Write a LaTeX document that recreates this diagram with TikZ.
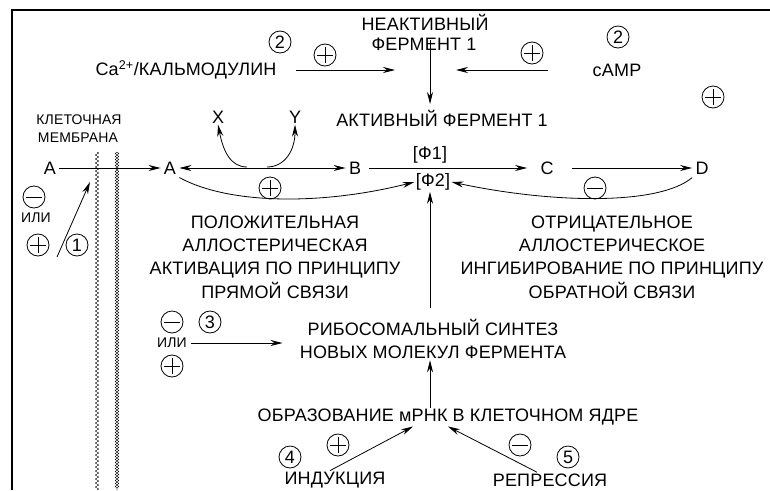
\documentclass[tikz,border=0pt]{standalone}
\usepackage{fontspec}
\setmainfont{Liberation Sans}[LetterSpace=1]
\usetikzlibrary{positioning,arrows.meta,decorations.pathmorphing}
\tikzset{word/.style={font=\fontsize{18}{23.3}\selectfont,inner sep=1pt},
small word/.style={font=\fontsize{14}{16}\selectfont,inner sep=1pt},
letter node/.style={word,inner sep=3pt},
sign node/.style={circle,draw,minimum size=22pt,inner sep=0pt},
plus node/.style={sign node,path picture={
	\draw ([xshift=3pt]path picture bounding box.west) -- ([xshift=-3pt]path picture bounding box.east)
	([yshift=-3pt]path picture bounding box.north) -- ([yshift=3pt]path picture bounding box.south);}},
minus node/.style={sign node,path picture={
	\draw ([xshift=3pt]path picture bounding box.west) -- ([xshift=-3pt]path picture bounding box.east);}},
num node/.style={circle,draw,minimum size=22pt,inner sep=0pt,font=\fontsize{18}{20}\selectfont},
conn/.style={-{Stealth[length=12pt,width=6pt]}},
membrane/.style={line width=0.4pt,decorate,decoration={zigzag,segment length=4pt,amplitude=1.8pt}},
}

\begin{document}
\begin{tikzpicture}[x=1pt,y=-1pt,line width=0.8pt]
	\useasboundingbox (0,0) rectangle (770,490);
	\draw[line width=2pt] (12,490) -- (12,10) -- (770,10);
	
	% enzyme 1
	\node[word] (inact) at (425,22) {НЕАКТИВНЫЙ};
	\node[word] (ferm) at (424,44) {ФЕРМЕНТ 1};
	\node[word] (act) at (442,118) {АКТИВНЫЙ ФЕРМЕНТ 1};
	\node[word] (ca) at (186,70) {Ca\textsuperscript{2+}/КАЛЬМОДУЛИН};
	\node[word] (camp) at (617,70) {cAMP};
	\node[num node] (n2a) at (280,42) {2};
	\node[num node] (n2b) at (618,37) {2};
	\node[plus node] (pca) at (325,55) {};
	\node[plus node] (pcamp) at (532,53) {};
	\node[plus node] (pfree) at (713,97) {};
	\coordinate (ca end) at (395,70);
	\coordinate (camp end) at (456,70);
	\coordinate (act top) at (430,104);
	
	\draw[conn] (ca.east) ++(18,0) -- (ca end);
	\draw[conn] (camp.west) ++(-43,0) -- (camp end);
	\draw[conn] (act top |- ferm) ++(0,-4) -- (act top);
	
	% membrane
	\node[small word] (memb1) at (79,120) {КЛЕТОЧНАЯ};
	\node[small word] (memb2) at (78,138) {МЕМБРАНА};
	\draw[membrane] (97,152) -- (97,490);
	\draw[membrane,decoration={segment length=6pt}] (117,152) -- (117,490);
	\draw[membrane,decoration={segment length=6pt,mirror}] (117,152) -- (117,490);
	
	% metabolic chain
	\node[letter node] (a0) at (50,168) {A};
	\node[letter node] (a1) at (170,168) {A};
	\node[letter node] (b) at (355,168) {B};
	\node[letter node] (c) at (547,168) {C};
	\node[letter node] (d) at (702,168) {D};
	\node[word] (f1) at (430,155) {[Ф1]};
	\node[word] (f2) at (433,182) {[Ф2]};
	\node[word] (x) at (218,117) {X};
	\node[word] (y) at (295,117) {Y};
	\coordinate (xfork) at (247,167);
	\coordinate (yfork) at (267,167);
	
	\draw[conn] (a0) -- (a1);
	\draw[{Stealth[length=12pt,width=6pt]}-{Stealth[length=12pt,width=6pt]}] (a1) -- (b);
	\draw[conn,shorten <=5pt,shorten >=10pt] (b) -- (c);
	\draw[conn,shorten <=15pt] (c) -- (d);
	\draw[conn] (xfork) .. controls (230,167) and (223,150) .. (x.south);
	\draw[conn] (yfork) .. controls (285,167) and (295,150) .. (y.south);
	
	% feedback
	\node[plus node] (pab) at (270,188) {};
	\node[minus node] (mcd) at (595,188) {};
	\draw[conn] (a1.south east) .. controls (230,205) and (323,205) .. (f2.west);
	\draw[conn] (d.south west) .. controls (660,205) and (555,204) .. (f2.east);
	
	% left side
	\node[minus node] (mleft) at (34,197) {};
	\node[small word] (orleft) at (36,218) {ИЛИ};
	\node[plus node] (pleft) at (38,245) {};
	\node[num node] (n1) at (77,245) {1};
	\coordinate (one tail) at (57,257);
	\coordinate (mem hit) at (90,182);
	\draw[conn] (one tail) -- (mem hit);
	
	\node[word,align=center] (pos text) at (275,257) {ПОЛОЖИТЕЛЬНАЯ\\АЛЛОСТЕРИЧЕСКАЯ\\АКТИВАЦИЯ ПО ПРИНЦИПУ\\ПРЯМОЙ СВЯЗИ};
	\node[word,align=center] (neg text) at (612,257) {ОТРИЦАТЕЛЬНОЕ\\АЛЛОСТЕРИЧЕСКОЕ\\ИНГИБИРОВАНИЕ ПО ПРИНЦИПУ\\ОБРАТНОЙ СВЯЗИ};
	
	% synthesis
	\node[word,align=center] (ribo) at (433,339) {РИБОСОМАЛЬНЫЙ СИНТЕЗ\\НОВЫХ МОЛЕКУЛ ФЕРМЕНТА};
	\node[minus node] (mribo) at (172,322) {};
	\node[num node] (n3) at (210,322) {3};
	\node[small word] (orribo) at (172,343) {ИЛИ};
	\node[plus node] (pribo) at (172,366) {};
	\draw[conn] ([yshift=10pt]ribo.north -| f1) -- (f2.south -| f1);
	\draw[conn,shorten >=16pt] (orribo.east) ++(3,0) -- (orribo -| ribo.west);
	
	\node[word] (mrna) at (448,417) {ОБРАЗОВАНИЕ мРНК В КЛЕТОЧНОМ ЯДРЕ};
	\node[word] (ind) at (335,480) {ИНДУКЦИЯ};
	\node[word] (rep) at (550,480) {РЕПРЕССИЯ};
	\node[num node] (n4) at (290,457) {4};
	\node[plus node] (pind) at (338,445) {};
	\node[minus node] (mrep) at (520,445) {};
	\node[num node] (n5) at (568,457) {5};
	\draw[conn] (mrna.north -| f1) -- (ribo.south -| f1);
	\draw[conn] ([xshift=-5pt]ind.north) -- ([xshift=-35pt]mrna.south);
	\draw[conn] ([xshift=-13pt]rep.north) -- (mrna.south);
\end{tikzpicture}
\end{document}
